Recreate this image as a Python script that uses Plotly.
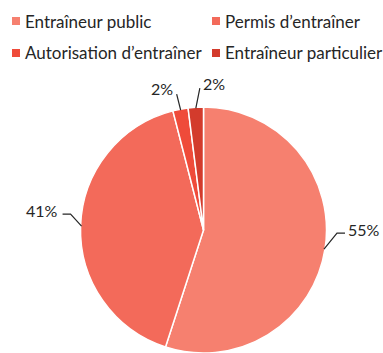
import math
import plotly.graph_objects as go

# Répartition par type d'entraîneur
labels = ["Entraîneur public", "Permis d’entraîner", "Autorisation d’entraîner", "Entraîneur particulier"]
values = [55, 41, 2, 2]
colors = ["#F6806F", "#F36A5A", "#EF4B3A", "#D33B2C"]

W, H = 383, 353
FONT = "Lato, 'Open Sans', sans-serif"
INK = "#262626"

# pie geometry in pixels
CX, R = 203.5, 123
TOP = H - 2 * R
CY = TOP + R

def px(x):
    return x / W

def py(y):
    return 1 - y / H

fig = go.Figure(
    go.Pie(
        labels=labels,
        values=values,
        sort=False,
        direction="clockwise",
        rotation=0,
        textinfo="none",
        hoverinfo="label+percent",
        showlegend=False,
        marker=dict(colors=colors, line=dict(color="white", width=1.5)),
        domain=dict(x=[px(CX - R), px(CX + R)], y=[0, py(TOP)]),
    )
)

# leader-line offsets (px) from the slice edge, and label placement
leader = [
    [(13, -16), (8, 0)],
    [(-11, -12), (-8, 0)],
    [(-4, -16)],
    [(4, -20)],
]
label_style = [
    dict(dx=1, dy=-4, anchor="left"),
    dict(dx=-3, dy=-4, anchor="right"),
    dict(dx=-2, dy=-6, anchor="right"),
    dict(dx=1, dy=-5, anchor="left"),
]

total = sum(values)
cum = 0
shapes, annotations = [], []
for v, segs, st in zip(values, leader, label_style):
    theta = 2 * math.pi * (cum + v / 2) / total
    cum += v
    x, y = CX + (R - 1) * math.sin(theta), CY - (R - 1) * math.cos(theta)
    pts = [(x, y)]
    for dx, dy in segs:
        x, y = x + dx, y + dy
        pts.append((x, y))
    path = "M " + " L ".join(f"{px(a):.5f},{py(b):.5f}" for a, b in pts)
    shapes.append(dict(type="path", path=path, xref="paper", yref="paper",
                       line=dict(color=INK, width=1.2)))
    annotations.append(dict(
        x=px(x + st["dx"]), y=py(y + st["dy"]), xref="paper", yref="paper",
        text=f"{round(100 * v / total)}%", showarrow=False,
        xanchor=st["anchor"], yanchor="middle",
        font=dict(family=FONT, size=16, color=INK),
    ))

# two-column key at the top
KEY_X0, KEY_COL, KEY_Y0, KEY_ROW, BOX = 12, 200, 21, 32, 8
for i, (name, col) in enumerate(zip(labels, colors)):
    kx = KEY_X0 + (i % 2) * KEY_COL
    ky = KEY_Y0 + (i // 2) * KEY_ROW
    shapes.append(dict(type="rect", xref="paper", yref="paper",
                       x0=px(kx), x1=px(kx + BOX), y0=py(ky - BOX / 2), y1=py(ky + BOX / 2),
                       fillcolor=col, line=dict(width=0)))
    annotations.append(dict(
        x=px(kx + BOX + 3), y=py(ky), xref="paper", yref="paper",
        text=name, showarrow=False, xanchor="left", yanchor="middle",
        font=dict(family=FONT, size=17, color=INK),
    ))

fig.update_layout(
    width=W, height=H,
    margin=dict(l=0, r=0, t=0, b=0),
    paper_bgcolor="white",
    plot_bgcolor="white",
    shapes=shapes,
    annotations=annotations,
    showlegend=False,
)

fig.write_html("out.html")
